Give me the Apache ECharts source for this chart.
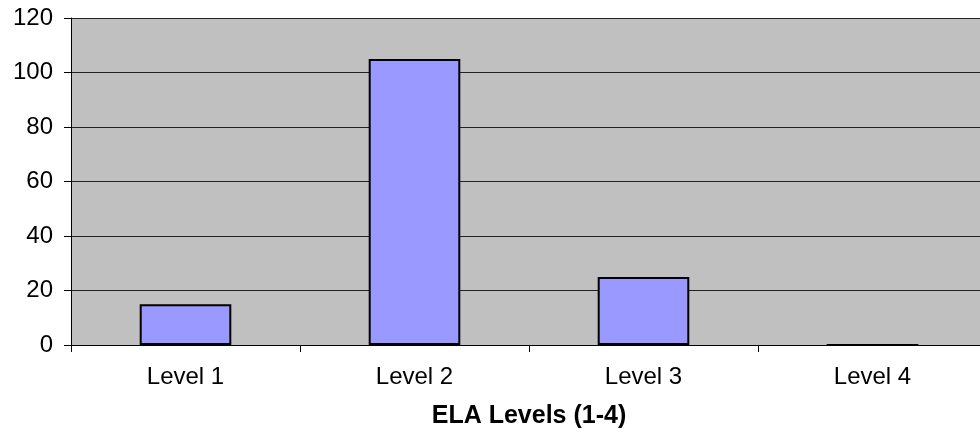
<!DOCTYPE html>
<html>
<head>
<meta charset="utf-8">
<script src="https://cdn.jsdelivr.net/npm/echarts@6/dist/echarts.min.js"></script>
<style>
  html, body { margin: 0; padding: 0; background: #fff; }
  #chart { width: 980px; height: 436px; }
</style>
</head>
<body>
<div id="chart"></div>
<script>
// Student counts per ELA performance level
const categories = ['Level 1', 'Level 2', 'Level 3', 'Level 4'];
const counts = [15, 105, 25, 0];
const axisTitle = 'ELA Levels (1-4)';

const FONT = '"Liberation Sans", Arial, sans-serif';

const chart = echarts.init(document.getElementById('chart'), null, { renderer: 'canvas' });
chart.setOption({
  animation: false,
  backgroundColor: '#ffffff',
  grid: {
    left: 71,
    top: 18,
    width: 916,
    height: 327,
    containLabel: false,
    outerBoundsMode: 'none',
    show: true,
    backgroundColor: '#C0C0C0',
    borderWidth: 0
  },
  xAxis: {
    type: 'category',
    data: categories,
    boundaryGap: true,
    axisLine: { show: true, lineStyle: { color: '#000', width: 1 } },
    axisTick: { show: true, length: 7, lineStyle: { color: '#000' } },
    axisLabel: { color: '#000', fontFamily: FONT, fontSize: 24, margin: 20 },
    name: axisTitle,
    nameLocation: 'middle',
    nameGap: 59,
    nameTextStyle: { color: '#000', fontFamily: FONT, fontSize: 25, fontWeight: 'bold' }
  },
  yAxis: {
    type: 'value',
    min: 0,
    max: 120,
    interval: 20,
    axisLine: { show: true, lineStyle: { color: '#000', width: 1 } },
    axisTick: { show: true, length: 7, lineStyle: { color: '#000' } },
    axisLabel: { color: '#000', fontFamily: FONT, fontSize: 24, margin: 18 },
    splitLine: { show: true, lineStyle: { color: '#222', width: 1 } }
  },
  series: [{
    type: 'bar',
    data: counts,
    barWidth: '40%',
    itemStyle: { color: '#9999FF', borderColor: '#000', borderWidth: 2 }
  }]
});
</script>
</body>
</html>
